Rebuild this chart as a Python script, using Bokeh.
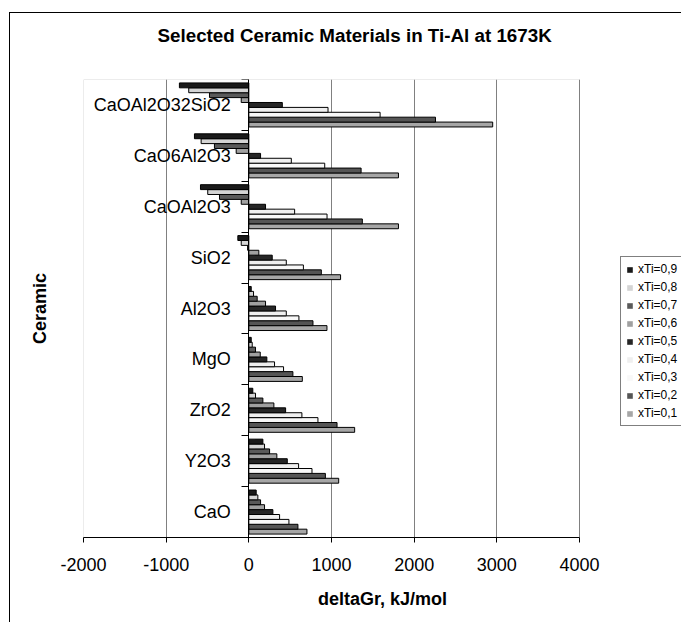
from bokeh.plotting import figure
from bokeh.models import (FactorRange, Range1d, LinearAxis, CategoricalAxis, FixedTicker,
                          Legend, LegendItem, ColumnDataSource, PrintfTickFormatter, BoxAnnotation)
from bokeh.transform import dodge
from bokeh.embed import file_html
from bokeh.resources import INLINE

# categories, bottom to top
ceramics = ["CaO", "Y2O3", "ZrO2", "MgO", "Al2O3", "SiO2",
            "CaOAl2O3", "CaO6Al2O3", "CaOAl2O32SiO2"]
series = ["xTi=0,1", "xTi=0,2", "xTi=0,3", "xTi=0,4", "xTi=0,5",
          "xTi=0,6", "xTi=0,7", "xTi=0,8", "xTi=0,9"]

x01 = [703, 1087, 1280, 647, 945, 1110, 1810, 1810, 2950]
x02 = [594, 926, 1067, 533, 776, 877, 1373, 1358, 2258]
x03 = [485, 764, 836, 420, 606, 660, 946, 918, 1588]
x04 = [372, 602, 642, 311, 453, 453, 554, 514, 958]
x05 = [291, 465, 445, 218, 323, 283, 202, 142, 405]
x06 = [190, 339, 303, 138, 202, 121, -92, -153, -92]
x07 = [142, 251, 170, 81, 101, -15, -355, -416, -476]
x08 = [109, 190, 81, 41, 57, -92, -497, -577, -727]
x09 = [89, 170, 48, 29, 29, -133, -585, -658, -840]
values = [x01, x02, x03, x04, x05, x06, x07, x08, x09]

colors = ["#a6a6a6", "#555555", "#f8f8f8", "#efefef", "#262626",
          "#a0a0a0", "#5a5a5a", "#d4d4d4", "#1a1a1a"]

xticks = [-2000, -1000, 0, 1000, 2000, 3000, 4000]

FONT = "Liberation Sans"

# layout (pixels)
W, H = 672, 630
LEFT, TOP, BOTTOM = 74, 87, 85
PLOT_W = 496          # width of the value area (-2000..4000)
FRAME_W = W - LEFT    # frame extends to the right edge to hold the legend
x_end = xticks[0] + (xticks[-1] - xticks[0]) * FRAME_W / PLOT_W

data = {"ceramic": ceramics}
for k, v in enumerate(values):
    data[f"s{k}"] = v
src = ColumnDataSource(data)

p = figure(width=W, height=H, output_backend="svg", toolbar_location=None,
           x_range=Range1d(xticks[0], x_end),
           y_range=FactorRange(factors=ceramics, range_padding=0),
           y_axis_location=None,
           min_border_left=LEFT, min_border_right=0, min_border_top=TOP, min_border_bottom=BOTTOM)
# chart-area border (top and left edges) drawn behind a transparent canvas border
p.styles = {"margin-top": "-8px", "margin-left": "9px",
            "background": "linear-gradient(#000, #000) 0px 20px / 100% 1px no-repeat, "
                          "linear-gradient(#000, #000) 0px 20px / 1px 100% no-repeat"}
p.background_fill_color = "white"
p.border_fill_color = None
p.outline_line_color = None

# plot-area border
p.add_layout(BoxAnnotation(left=xticks[0], right=xticks[-1], fill_color=None,
                           line_color="#808080", line_width=1, level="underlay"))

# title
p.title.text = "Selected Ceramic Materials in Ti-Al at 1673K"
p.title.text_font = FONT
p.title.text_font_size = "18.8px"
p.title.text_font_style = "bold"
p.title.text_color = "black"
p.title.align = "left"
p.title.offset = 74
p.title.vertical_align = "top"
p.title.standoff = 64

# x axis
xa = p.xaxis[0]
xa.ticker = FixedTicker(ticks=xticks)
xa.bounds = (xticks[0], xticks[-1])
xa.formatter = PrintfTickFormatter(format="%d")
xa.major_label_text_font = FONT
xa.major_label_text_font_size = "18px"
xa.major_label_text_color = "black"
xa.major_tick_out = 5
xa.major_tick_in = 0
xa.minor_tick_line_color = None
xa.axis_line_color = "black"
xa.major_tick_line_color = "black"
xa.major_label_standoff = 15
xa.axis_label = "deltaGr, kJ/mol"
xa.axis_label_text_font = FONT
xa.axis_label_text_font_size = "18px"
xa.axis_label_text_font_style = "bold"
xa.axis_label_text_color = "black"
xa.axis_label_standoff = 15

p.xgrid.grid_line_color = "#808080"
p.ygrid.grid_line_color = None

# y axis title
ya_title = LinearAxis(ticker=FixedTicker(ticks=[]), axis_line_color=None,
                      major_tick_line_color=None, minor_tick_line_color=None,
                      axis_label="Ceramic", axis_label_text_font=FONT,
                      axis_label_text_font_size="18px", axis_label_text_font_style="bold",
                      axis_label_text_color="black", axis_label_standoff=34)
p.add_layout(ya_title, "left")

# category axis at x = 0
ya_cat = CategoricalAxis(fixed_location=0, major_tick_out=0, major_tick_in=0,
                         major_tick_line_color=None, axis_line_color="black",
                         major_label_standoff=18, major_label_text_font=FONT,
                         major_label_text_font_size="18px", major_label_text_color="black")
p.add_layout(ya_cat, "left")

# boundary ticks of category axis
bounds = list(range(len(ceramics) + 1))
ya_ticks = LinearAxis(fixed_location=0, ticker=FixedTicker(ticks=bounds),
                      major_tick_out=7, major_tick_in=0, minor_tick_line_color=None,
                      axis_line_color="black", major_tick_line_color="black",
                      major_label_overrides={b: "" for b in bounds})
p.add_layout(ya_ticks, "left")

# bars: filled bars (used by the legend) plus their black outlines
n = len(series)
h = 1.0 / (n + 1.4)
renderers = []
for k in range(n):
    ypos = dodge("ceramic", (k - (n - 1) / 2) * h, range=p.y_range)
    r = p.hbar(y=ypos, left=0, right=f"s{k}", height=h, source=src,
               fill_color=colors[k], line_color=None)
    p.hbar(y=ypos, left=0, right=f"s{k}", height=h, source=src,
           fill_color=None, line_color="black", line_width=1)
    renderers.append(r)

items = [LegendItem(label=series[k], renderers=[renderers[k]]) for k in reversed(range(n))]
legend = Legend(items=items, location=(537, 111), orientation="vertical",
                label_text_font=FONT, label_text_font_size="12px", label_text_color="black",
                glyph_width=7, glyph_height=7, label_height=14, label_standoff=5,
                spacing=4, padding=5, margin=0,
                border_line_color="black", border_line_width=1,
                background_fill_color="white", background_fill_alpha=1)
p.add_layout(legend, "center")

open("out.html", "w").write(file_html(p, INLINE))
